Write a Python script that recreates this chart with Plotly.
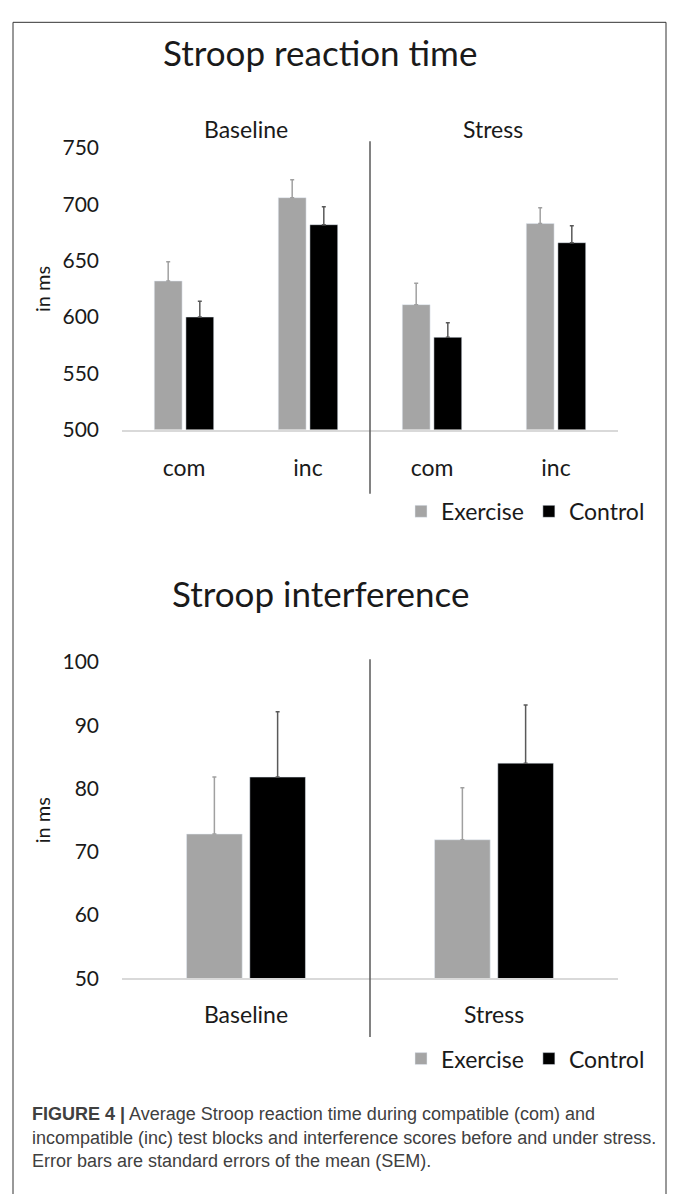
import plotly.graph_objects as go

W, H = 675, 1194

def px(x):
    return x / W

def py(y):
    return 1 - y / H

# ---------------- data ----------------
rt_categories = ["com", "inc", "com", "inc"]
rt_conditions = ["Baseline", "Stress"]
rt_exercise = [632, 706, 611, 683]
rt_exercise_sem = [17, 16, 19, 14]
rt_control = [600, 682, 582, 666]
rt_control_sem = [14, 16, 13, 15]
rt_yticks = [500, 550, 600, 650, 700, 750]

int_categories = ["Baseline", "Stress"]
int_exercise = [72.8, 71.9]
int_exercise_sem = [9.0, 8.2]
int_control = [81.8, 84.0]
int_control_sem = [10.3, 9.2]
int_yticks = [50, 60, 70, 80, 90, 100]

series_names = ["Exercise", "Control"]
# --------------------------------------

EX_COLOR = "#A5A5A5"
CO_COLOR = "#000000"
EX_ERR = "#A0A0A0"
CO_ERR = "#595959"
FONT = "Lato"
TXT = "#1a1a1a"

rt_x = list(range(len(rt_categories)))

fig = go.Figure()

fig.add_trace(go.Bar(
    x=rt_x, y=rt_exercise, name=series_names[0], marker_color=EX_COLOR,
    error_y=dict(type="data", symmetric=False, array=rt_exercise_sem,
                 arrayminus=[0] * len(rt_exercise), color=EX_ERR, thickness=1.5, width=2),
    xaxis="x", yaxis="y", legend="legend"))
fig.add_trace(go.Bar(
    x=rt_x, y=rt_control, name=series_names[1], marker_color=CO_COLOR,
    error_y=dict(type="data", symmetric=False, array=rt_control_sem,
                 arrayminus=[0] * len(rt_control), color=CO_ERR, thickness=1.5, width=2),
    xaxis="x", yaxis="y", legend="legend"))

fig.add_trace(go.Bar(
    x=int_categories, y=int_exercise, name=series_names[0], marker_color=EX_COLOR,
    error_y=dict(type="data", symmetric=False, array=int_exercise_sem,
                 arrayminus=[0] * len(int_exercise), color=EX_ERR, thickness=1.5, width=2),
    xaxis="x2", yaxis="y2", legend="legend2"))
fig.add_trace(go.Bar(
    x=int_categories, y=int_control, name=series_names[1], marker_color=CO_COLOR,
    error_y=dict(type="data", symmetric=False, array=int_control_sem,
                 arrayminus=[0] * len(int_control), color=CO_ERR, thickness=1.5, width=2),
    xaxis="x2", yaxis="y2", legend="legend2"))

ytickfont = dict(family=FONT, size=21, color=TXT)
xtickfont = dict(family=FONT, size=23, color=TXT)
ytitlefont = dict(family=FONT, size=20, color=TXT)

fig.update_layout(
    width=W, height=H,
    margin=dict(l=0, r=0, t=0, b=0),
    paper_bgcolor="white", plot_bgcolor="white",
    barmode="group", bargap=0.49, bargroupgap=0.12,
    font=dict(family=FONT, color=TXT),
    xaxis=dict(domain=[px(122), px(618)], range=[-0.5, len(rt_categories) - 0.5],
               tickvals=rt_x, ticktext=rt_categories, tickfont=xtickfont,
               showline=True, linecolor="#D9D9D9", linewidth=1.5, showgrid=False,
               ticks="", zeroline=False, anchor="y", ticklabelstandoff=17, fixedrange=True),
    yaxis=dict(domain=[py(424.5), py(137)], range=[rt_yticks[0], rt_yticks[-1]],
               tickvals=rt_yticks, tickfont=ytickfont, showgrid=False, zeroline=False,
               showline=False, ticks="", anchor="x", ticklabelstandoff=22,
               title=dict(text="in ms", font=ytitlefont, standoff=6)),
    xaxis2=dict(domain=[px(122), px(618)], tickfont=xtickfont,
                showline=True, linecolor="#D9D9D9", linewidth=1.5, showgrid=False,
                ticks="", zeroline=False, anchor="y2", ticklabelstandoff=15),
    yaxis2=dict(domain=[py(985), py(661.7)], range=[int_yticks[0], int_yticks[-1]],
                tickvals=int_yticks, tickfont=ytickfont, showgrid=False, zeroline=False,
                showline=False, ticks="", anchor="x2", ticklabelstandoff=22,
                title=dict(text="in ms", font=ytitlefont, standoff=6)),
    legend=dict(orientation="h", x=px(650), xanchor="right", y=py(508), yanchor="middle",
                font=dict(family=FONT, size=23, color=TXT), bgcolor="rgba(0,0,0,0)"),
    legend2=dict(orientation="h", x=px(650), xanchor="right", y=py(1067), yanchor="middle",
                 font=dict(family=FONT, size=23, color=TXT), bgcolor="rgba(0,0,0,0)"),
)

annotations = [
    dict(text="Stroop reaction time", x=px(320), y=py(39), font=dict(size=35)),
    dict(text="Stroop interference", x=px(320), y=py(591), font=dict(size=35)),
    dict(text=rt_conditions[0], x=px(246), y=py(117), font=dict(size=23)),
    dict(text=rt_conditions[1], x=px(493), y=py(117), font=dict(size=23)),
]
for a in annotations:
    a.update(xref="paper", yref="paper", showarrow=False, xanchor="center", yanchor="middle")
    a["font"].update(family=FONT, color=TXT)
    fig.add_annotation(**a)

cap_font = dict(family="Liberation Sans", size=18, color="#404040")
captions = [
    "<b>FIGURE 4 |</b> Average Stroop reaction time during compatible (com) and",
    "incompatible (inc) test blocks and interference scores before and under stress.",
    "Error bars are standard errors of the mean (SEM).",
]
for i, c in enumerate(captions):
    fig.add_annotation(text=c, x=px(30), y=py(1124 + 24 * i), xref="paper", yref="paper",
                       xanchor="left", yanchor="middle", showarrow=False, font=cap_font)

shapes = [
    # outer frame
    dict(type="path", path=f"M {px(13)} -0.05 L {px(13)} {py(8.5)} L {px(666)} {py(8.5)} L {px(666)} -0.05",
         line=dict(color="#333333", width=1)),
    # dividers
    dict(type="line", x0=px(370), x1=px(370), y0=py(490), y1=py(130),
         line=dict(color="#595959", width=1.5)),
    dict(type="line", x0=px(370), x1=px(370), y0=py(1045), y1=py(659),
         line=dict(color="#595959", width=1.5)),
]
for s in shapes:
    s.update(xref="paper", yref="paper")
    fig.add_shape(**s)

fig.write_html("out.html")
